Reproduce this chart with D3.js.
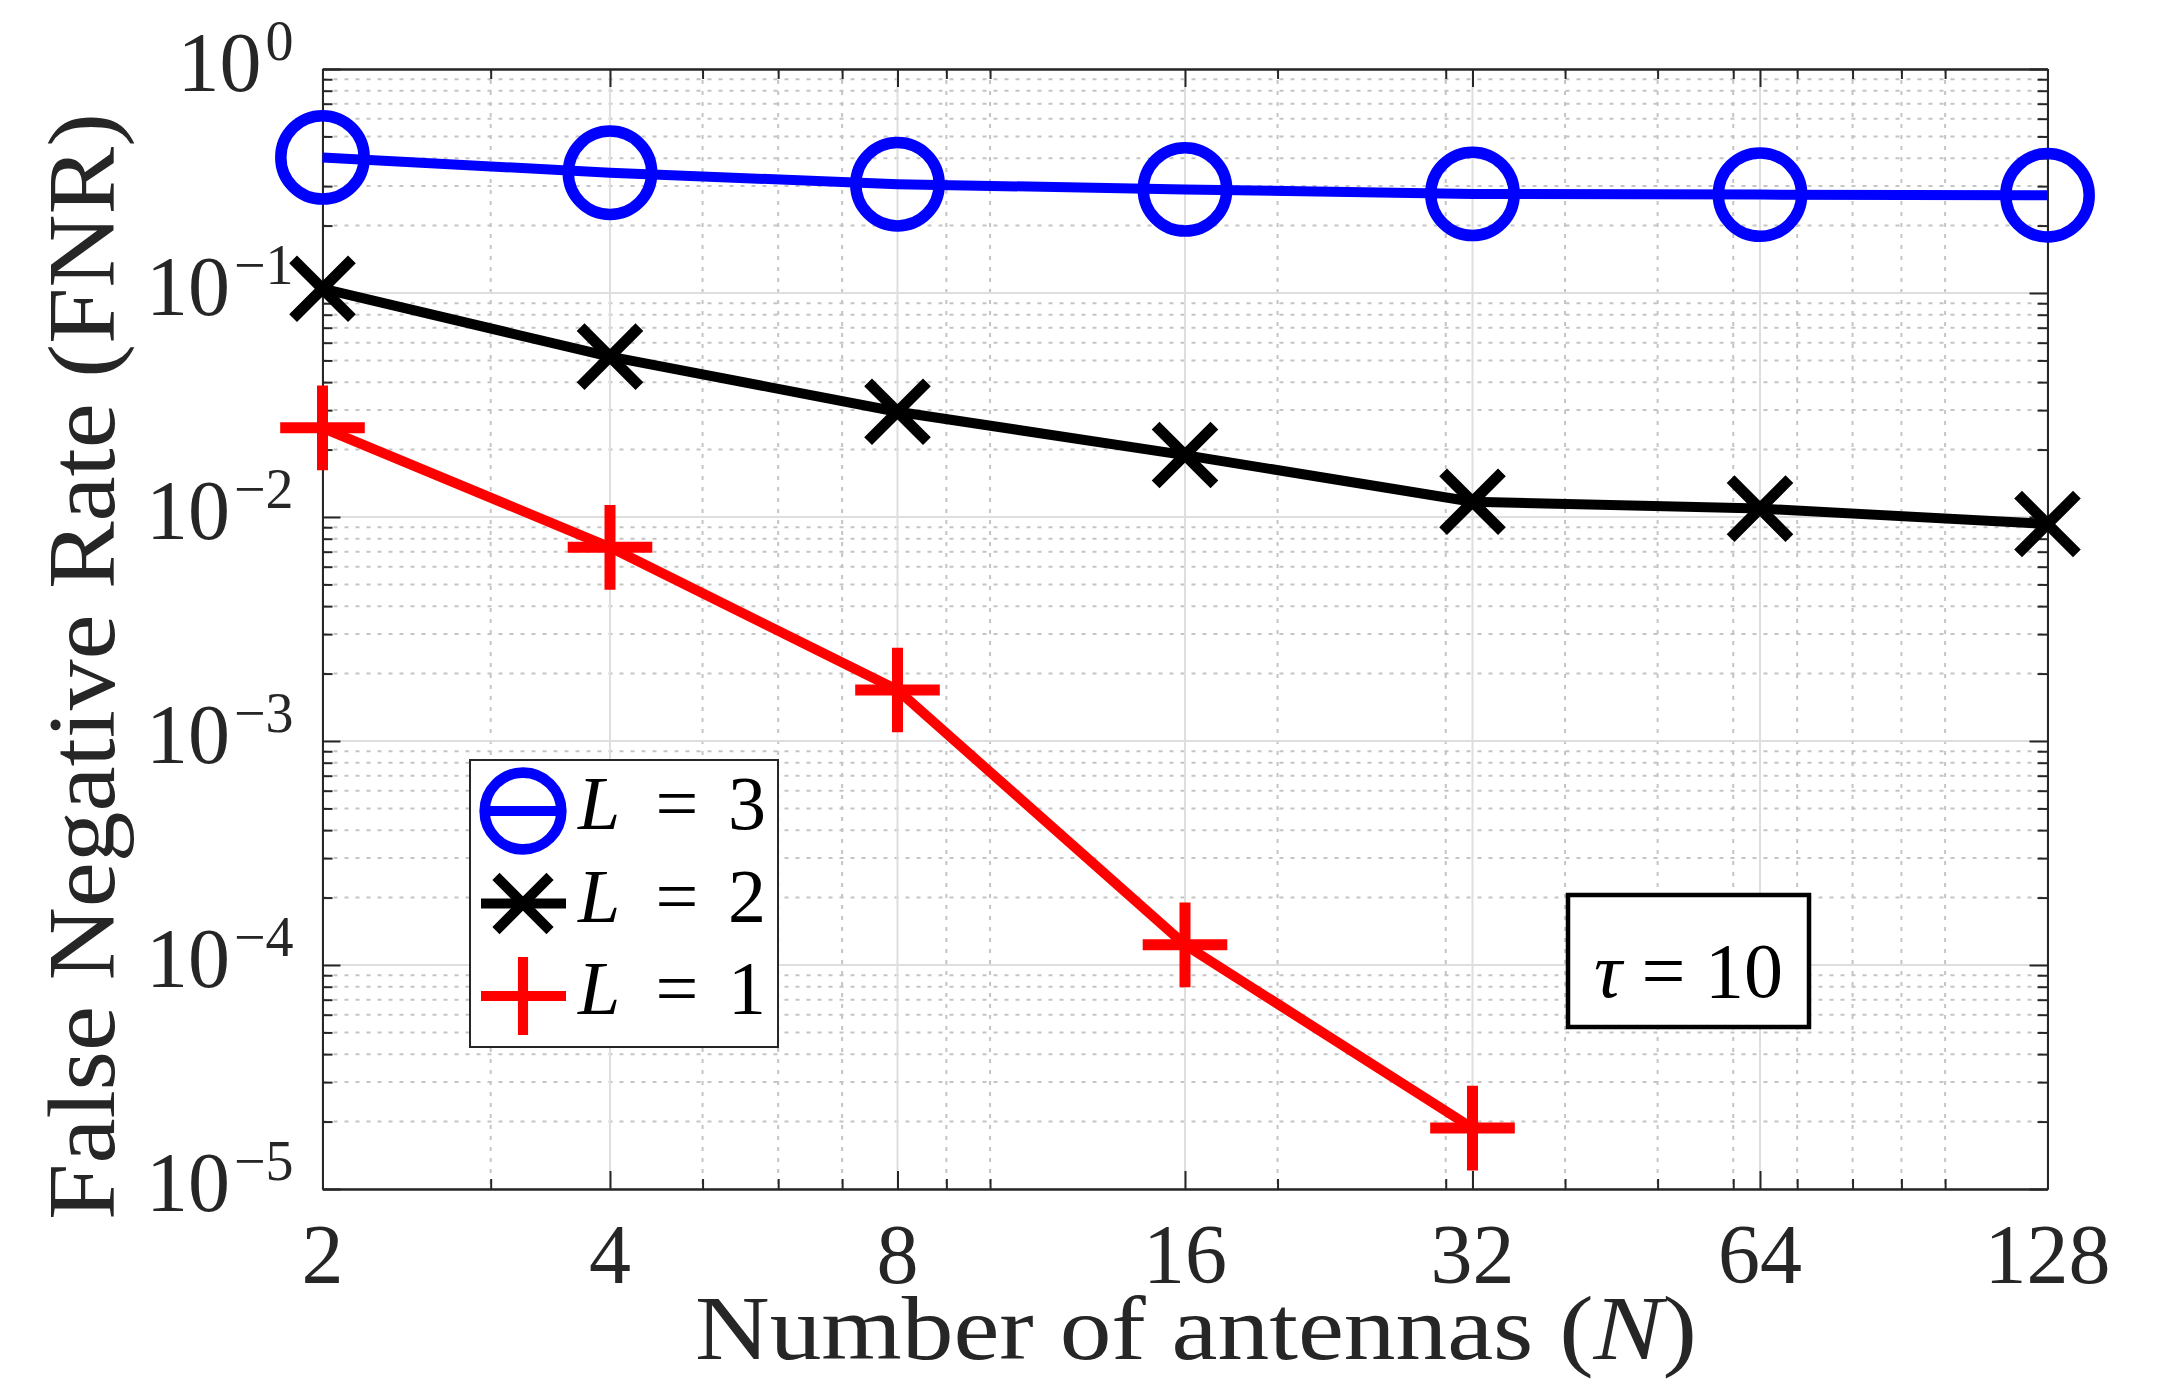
<!DOCTYPE html>
<html><head><meta charset="utf-8">
<script src="https://cdn.jsdelivr.net/npm/d3@7"></script>
<style>body{margin:0;background:#fff;overflow:hidden}</style>
</head><body>
<svg id="chart" width="2163" height="1381"></svg>
<script>
// ---- data ----
const antennas = [2, 4, 8, 16, 32, 64, 128];
const fnrL3 = [0.403, 0.344, 0.306, 0.290, 0.277, 0.275, 0.273];
const fnrL2 = [0.1045, 0.052, 0.0295, 0.0189, 0.0117, 0.0109, 0.0093];
const fnrL1 = [0.0250, 0.00732, 0.00169, 1.23e-4, 1.87e-5];
const xTickValues = [2, 4, 8, 16, 32, 64, 128];
const xTickLabels = ["2", "4", "8", "16", "32", "64", "128"];
const xMinorValues = [3, 5, 6, 7, 9, 10, 20, 30, 40, 50, 60, 70, 80, 90, 100];
const yTickExponents = [0, -1, -2, -3, -4, -5];
const yTickValues = [1, 1e-1, 1e-2, 1e-3, 1e-4, 1e-5];
const yMinorMantissas = [2, 3, 4, 5, 6, 7, 8, 9];
const legendLabels = ["3", "2", "1"];
const annotation = "10";

// ---- layout ----
const W = 2163, H = 1381;
const L = 322.5, R = 2047.5, T = 69, B = 1189;
const AX = "#262626";
const FONT = "'Liberation Serif', 'Times New Roman', serif";

const svg = d3.select("#chart");
const x = d3.scaleLog().base(2).domain([2, 128]).range([L, R]);
const y = d3.scaleLog().base(10).domain([1e-5, 1]).range([B, T]);

const yMinorValues = [];
yTickValues.slice(1).forEach(p => yMinorMantissas.forEach(m => yMinorValues.push(m * p)));

// grid
const grid = svg.append("g");
grid.selectAll(".xmg").data(xMinorValues).join("line")
  .attr("x1", d => x(d)).attr("x2", d => x(d)).attr("y1", T).attr("y2", B)
  .attr("stroke", "#c4c4c4").attr("stroke-width", 2).attr("stroke-dasharray", "4,7");
grid.selectAll(".ymg").data(yMinorValues).join("line")
  .attr("x1", L).attr("x2", R).attr("y1", d => y(d)).attr("y2", d => y(d))
  .attr("stroke", "#c4c4c4").attr("stroke-width", 2).attr("stroke-dasharray", "4,7");
grid.selectAll(".xg").data(xTickValues).join("line")
  .attr("x1", d => x(d)).attr("x2", d => x(d)).attr("y1", T).attr("y2", B)
  .attr("stroke", "#dedede").attr("stroke-width", 2);
grid.selectAll(".yg").data(yTickValues).join("line")
  .attr("x1", L).attr("x2", R).attr("y1", d => y(d)).attr("y2", d => y(d))
  .attr("stroke", "#dedede").attr("stroke-width", 2);

// axes (ticks inward on all four sides)
function styleAxis(g) {
  g.selectAll("path.domain").attr("stroke", AX).attr("stroke-width", 2);
  g.selectAll(".tick line").attr("stroke", AX).attr("stroke-width", 2);
  g.selectAll(".tick text").remove();
}
const axes = svg.append("g");
axes.append("g").attr("transform", `translate(0,${B})`)
  .call(d3.axisBottom(x).tickValues(xMinorValues).tickSizeInner(-10).tickSizeOuter(0).tickFormat("")).call(styleAxis);
axes.append("g").attr("transform", `translate(0,${B})`)
  .call(d3.axisBottom(x).tickValues(xTickValues).tickSizeInner(-18).tickSizeOuter(0).tickFormat("")).call(styleAxis);
axes.append("g").attr("transform", `translate(0,${T})`)
  .call(d3.axisTop(x).tickValues(xMinorValues).tickSizeInner(-10).tickSizeOuter(0).tickFormat("")).call(styleAxis);
axes.append("g").attr("transform", `translate(0,${T})`)
  .call(d3.axisTop(x).tickValues(xTickValues).tickSizeInner(-18).tickSizeOuter(0).tickFormat("")).call(styleAxis);
axes.append("g").attr("transform", `translate(${L},0)`)
  .call(d3.axisLeft(y).tickValues(yMinorValues).tickSizeInner(-10).tickSizeOuter(0).tickFormat("")).call(styleAxis);
axes.append("g").attr("transform", `translate(${L},0)`)
  .call(d3.axisLeft(y).tickValues(yTickValues).tickSizeInner(-18).tickSizeOuter(0).tickFormat("")).call(styleAxis);
axes.append("g").attr("transform", `translate(${R},0)`)
  .call(d3.axisRight(y).tickValues(yMinorValues).tickSizeInner(-10).tickSizeOuter(0).tickFormat("")).call(styleAxis);
axes.append("g").attr("transform", `translate(${R},0)`)
  .call(d3.axisRight(y).tickValues(yTickValues).tickSizeInner(-18).tickSizeOuter(0).tickFormat("")).call(styleAxis);

// tick labels
svg.append("g").selectAll("text").data(xTickValues).join("text")
  .attr("x", d => x(d)).attr("y", B + 94)
  .attr("text-anchor", "middle").attr("font-family", FONT).attr("font-size", 84).attr("fill", AX)
  .text((d, i) => xTickLabels[i]);

const yl = svg.append("g").selectAll("text").data(yTickValues).join("text")
  .attr("x", L - 29).attr("y", d => y(d) + 22)
  .attr("text-anchor", "end").attr("font-family", FONT).attr("font-size", 84).attr("fill", AX);
yl.append("tspan").text("10");
yl.append("tspan").attr("dy", -31).attr("dx", 4).attr("font-size", 56)
  .text((d, i) => (yTickExponents[i] < 0 ? "\u2212" + (-yTickExponents[i]) : String(yTickExponents[i])));

// axis labels
const xl = svg.append("text").attr("x", 1196).attr("y", 1359)
  .attr("text-anchor", "middle").attr("font-family", FONT).attr("font-size", 92).attr("fill", AX)
  .attr("textLength", 1002).attr("lengthAdjust", "spacingAndGlyphs");
xl.append("tspan").text("Number of antennas (");
xl.append("tspan").attr("font-style", "italic").text("N");
xl.append("tspan").text(")");

svg.append("text").attr("transform", "translate(114,666.5) rotate(-90)")
  .attr("text-anchor", "middle").attr("font-family", FONT).attr("font-size", 96).attr("fill", AX)
  .attr("textLength", 1107).attr("lengthAdjust", "spacingAndGlyphs")
  .text("False Negative Rate (FNR)");

// series
const series = [
  { name: legendLabels[0], vals: fnrL3, color: "#0000ff", marker: "circle" },
  { name: legendLabels[1], vals: fnrL2, color: "#000000", marker: "x" },
  { name: legendLabels[2], vals: fnrL1, color: "#ff0000", marker: "plus" }
];
const line = d3.line().x(d => x(d[0])).y(d => y(d[1]));

function drawMarker(g, type, color, s) {
  if (type === "circle") {
    g.append("circle").attr("r", 41.7 * s).attr("fill", "none").attr("stroke", color).attr("stroke-width", 11.5 * s);
  } else if (type === "x") {
    const a = 29.4 * s;
    g.append("path").attr("d", `M${-a},${-a}L${a},${a}M${-a},${a}L${a},${-a}`)
      .attr("stroke", color).attr("stroke-width", 11 * s).attr("fill", "none");
  } else {
    const a = 42.3 * s;
    g.append("path").attr("d", `M${-a},0L${a},0M0,${-a}L0,${a}`)
      .attr("stroke", color).attr("stroke-width", 11 * s).attr("fill", "none");
  }
}

const dataG = svg.append("g");
series.forEach(sr => {
  const pts = sr.vals.map((v, i) => [antennas[i], v]);
  dataG.append("path").datum(pts).attr("d", line)
    .attr("fill", "none").attr("stroke", sr.color).attr("stroke-width", 10).attr("stroke-linejoin", "round");
  pts.forEach(p => {
    const g = dataG.append("g").attr("transform", `translate(${x(p[0])},${y(p[1])})`);
    drawMarker(g, sr.marker, sr.color, 1);
  });
});

// legend
const lg = svg.append("g");
lg.append("rect").attr("x", 470).attr("y", 760).attr("width", 308).attr("height", 287)
  .attr("fill", "#fff").attr("stroke", AX).attr("stroke-width", 2);
const rowsY = [811, 903.5, 996];
series.forEach((sr, i) => {
  const cy = rowsY[i];
  lg.append("line").attr("x1", 481).attr("x2", 566).attr("y1", cy).attr("y2", cy)
    .attr("stroke", sr.color).attr("stroke-width", 10);
  const g = lg.append("g").attr("transform", `translate(523,${cy})`);
  drawMarker(g, sr.marker, sr.color, 0.92);
  lg.append("text").attr("x", 578).attr("y", cy + 18).attr("font-family", FONT)
    .attr("font-size", 76).attr("font-style", "italic").attr("fill", "#000").text("L");
  lg.append("text").attr("x", 677).attr("y", cy + 18).attr("text-anchor", "middle").attr("font-family", FONT)
    .attr("font-size", 76).attr("fill", "#000").text("=");
  lg.append("text").attr("x", 747).attr("y", cy + 18).attr("text-anchor", "middle").attr("font-family", FONT)
    .attr("font-size", 76).attr("fill", "#000").text(sr.name);
});

// annotation box
const ab = svg.append("g");
ab.append("rect").attr("x", 1568).attr("y", 895).attr("width", 241).attr("height", 132)
  .attr("fill", "#fff").attr("stroke", "#000").attr("stroke-width", 4.5);
const at = ab.append("text").attr("x", 1688.5).attr("y", 996.5).attr("text-anchor", "middle")
  .attr("font-family", FONT).attr("font-size", 78).attr("fill", "#000");
at.append("tspan").attr("font-style", "italic").text("\u03c4");
at.append("tspan").text(" = " + annotation);
</script>
</body></html>
